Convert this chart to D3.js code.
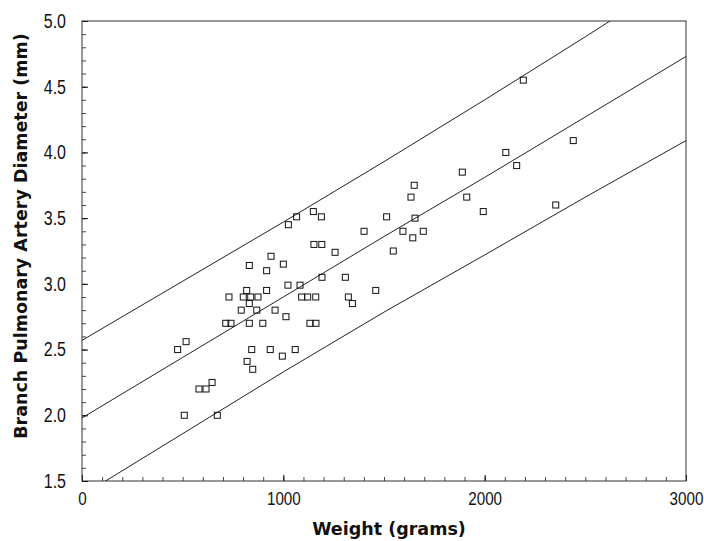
<!DOCTYPE html>
<html>
<head>
<meta charset="utf-8">
<script src="https://cdn.jsdelivr.net/npm/d3@7"></script>
<style>
  body { margin: 0; background: #fff; }
  text { fill: #111; }
  .tick text { font-family: "Liberation Sans", Arial, sans-serif; }
  .title { font-family: "DejaVu Sans", Verdana, sans-serif; font-weight: bold; }
</style>
</head>
<body>
<div id="chart"></div>
<script>
// scatter data: body weight (g) vs branch pulmonary artery diameter (mm)
const weights = [508, 672, 475, 517, 581, 616, 646, 730, 714, 740, 818, 801, 838, 874, 831, 791, 868, 831, 898,
    831, 917, 939, 1000, 917, 959, 1013, 1023, 1083, 1091, 1121, 1161, 1132, 1162, 1192, 1308, 1323, 1343, 1459,
    843, 935, 995, 1059, 820, 848, 1257, 1025, 1066, 1149, 1189, 1401, 1513, 1152, 1191, 2105, 2159, 1889, 1650,
    1634, 1911, 1993, 1654, 1594, 1643, 1695, 1546, 2353, 2440, 2192];
const diameters = [2.00, 2.00, 2.50, 2.56, 2.20, 2.20, 2.25, 2.90, 2.70, 2.70, 2.95, 2.90, 2.90, 2.90, 2.85, 2.80, 2.80, 2.70, 2.70,
    3.14, 3.10, 3.21, 3.15, 2.95, 2.80, 2.75, 2.99, 2.99, 2.90, 2.90, 2.90, 2.70, 2.70, 3.05, 3.05, 2.90, 2.85, 2.95,
    2.50, 2.50, 2.45, 2.50, 2.41, 2.35, 3.24, 3.45, 3.51, 3.55, 3.51, 3.40, 3.51, 3.30, 3.30, 4.00, 3.90, 3.85, 3.75,
    3.66, 3.66, 3.55, 3.50, 3.40, 3.35, 3.40, 3.25, 3.60, 4.09, 4.55];

// regression line and prediction band
const bandWeights = [0, 500, 1000, 1500, 2000, 2500, 3000];
const fitValues = [1.98, 2.44, 2.90, 3.36, 3.81, 4.27, 4.73];
const upperValues = [2.57, 3.02, 3.47, 3.93, 4.40, 4.88, 5.37];
const lowerValues = [1.39, 1.86, 2.33, 2.785, 3.22, 3.66, 4.09];

const xTicks = [0, 1000, 2000, 3000];
const yTicks = [1.5, 2.0, 2.5, 3.0, 3.5, 4.0, 4.5, 5.0];

const margin = { top: 21, right: 18, bottom: 60, left: 82 };
const width = 704 - margin.left - margin.right;
const height = 541 - margin.top - margin.bottom;

const svg = d3.select("#chart")
    .append("svg")
    .attr("width", 704)
    .attr("height", 541);

const g = svg.append("g")
    .attr("transform", `translate(${margin.left},${margin.top})`);

const x = d3.scaleLinear().domain([0, 3000]).range([0, width]);
const y = d3.scaleLinear().domain([1.5, 5.0]).range([height, 0]);

g.append("clipPath")
    .attr("id", "plot-clip")
    .append("rect")
    .attr("width", width)
    .attr("height", height);

// minor ticks (inward)
g.append("g")
    .attr("transform", `translate(0,${height})`)
    .call(d3.axisBottom(x).tickValues(d3.range(0, 3001, 100)).tickSize(-4).tickFormat(""))
    .call(a => a.select(".domain").remove())
    .call(a => a.selectAll("line").attr("stroke", "#444"));

g.append("g")
    .call(d3.axisLeft(y).tickValues(d3.range(15, 51).map(d => d / 10)).tickSize(-4).tickFormat(""))
    .call(a => a.select(".domain").remove())
    .call(a => a.selectAll("line").attr("stroke", "#444"));

// major axes, labels squeezed to look like the narrow face of the original
const xAxis = g.append("g")
    .attr("transform", `translate(0,${height})`)
    .call(d3.axisBottom(x).tickValues(xTicks).tickSize(-6).tickPadding(11).tickFormat(d3.format("d")));
xAxis.select(".domain").remove();
xAxis.selectAll("text")
    .attr("font-size", 19)
    .attr("fill", "#111")
    .attr("transform", "scale(0.8,1)");

const yAxis = g.append("g")
    .call(d3.axisLeft(y).tickValues(yTicks).tickSize(-6).tickPadding(16).tickFormat(d3.format(".1f")));
yAxis.select(".domain").remove();
yAxis.selectAll("text")
    .attr("font-size", 20)
    .attr("fill", "#111")
    .attr("x", -20)
    .attr("transform", "scale(0.8,1)");

// frame
g.append("rect")
    .attr("width", width)
    .attr("height", height)
    .attr("fill", "none")
    .attr("stroke", "#333")
    .attr("stroke-width", 1);

// regression and prediction lines
const line = d3.line()
    .x((d, i) => x(bandWeights[i]))
    .y(d => y(d));

const lines = g.append("g").attr("clip-path", "url(#plot-clip)");
[upperValues, fitValues, lowerValues].forEach(vals => {
    lines.append("path")
        .datum(vals)
        .attr("d", line)
        .attr("fill", "none")
        .attr("stroke", "#222")
        .attr("stroke-width", 1);
});

// data points as open squares
g.selectAll("rect.pt")
    .data(weights)
    .enter()
    .append("rect")
    .attr("class", "pt")
    .attr("x", (d, i) => x(d) - 3)
    .attr("y", (d, i) => y(diameters[i]) - 3)
    .attr("width", 6)
    .attr("height", 6)
    .attr("fill", "none")
    .attr("stroke", "#111")
    .attr("stroke-width", 1);

// axis titles
svg.append("text")
    .attr("class", "title")
    .attr("x", 389)
    .attr("y", 535)
    .attr("text-anchor", "middle")
    .attr("font-size", 17.5)
    .text("Weight (grams)");

svg.append("text")
    .attr("class", "title")
    .attr("transform", `translate(27,236) rotate(-90)`)
    .attr("text-anchor", "middle")
    .attr("font-size", 17.5)
    .text("Branch Pulmonary Artery Diameter (mm)");
</script>
</body>
</html>
